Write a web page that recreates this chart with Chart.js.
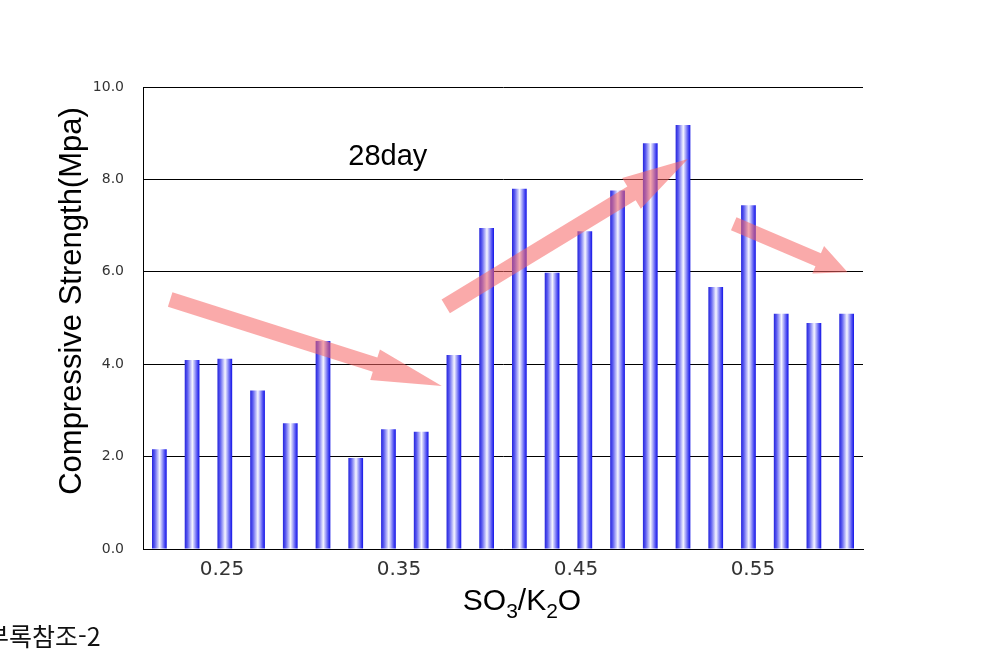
<!DOCTYPE html>
<html lang="ko">
<head>
    <meta charset="UTF-8">
    <title>28day compressive strength</title>
    <style>
        body { margin: 0; background: #fff; }
        .wrap { position: relative; width: 996px; height: 654px; overflow: hidden; }
        #chart { position: absolute; left: 0; top: 0; }
        .note {
            position: absolute;
            left: -14px;
            top: 620px;
            font-family: "Noto Sans CJK KR", sans-serif;
            font-size: 25px;
            line-height: 30px;
            color: #111;
            white-space: nowrap;
        }
    </style>
</head>
<body>
    <div class="wrap">
        <canvas id="chart" width="996" height="654"></canvas>
        <div class="note">부록참조-2</div>
    </div>

    <script src="https://cdn.jsdelivr.net/npm/chart.js@4/dist/chart.umd.min.js"></script>
    <script>
        // 22 specimens, left to right
        const sampleNo = ['1','2','3','4','5','6','7','8','9','10','11','12','13','14','15','16','17','18','19','20','21','22'];
        const strength = [2.16, 4.09, 4.12, 3.43, 2.72, 4.50, 1.97, 2.59, 2.54, 4.20, 6.95, 7.80,
                          5.98, 6.88, 7.76, 8.78, 9.18, 5.67, 7.44, 5.09, 4.89, 5.09];
        // SO3/K2O labels under the axis
        const ratioTicks = [0.25, 0.35, 0.45, 0.55];
        const ratioMin = 0.2054;
        const ratioMax = 0.6122;
        const yTicks = [0, 2, 4, 6, 8, 10];

        // trend arrows, in (bar index, MPa)
        const arrowFrom = [[0.33, 5.40], [8.75, 5.25], [17.55, 7.04]];
        const arrowTo   = [[8.63, 3.53], [16.15, 8.44], [21.03, 5.99]];
        const arrowShaft = [15, 16, 14];
        const arrowHead  = [[70, 32], [66, 36], [32, 30]];   // length, width

        const noteText = '28day';
        const noteAt = [6.98, 8.31];
        const yTitle = 'Compressive Strength(Mpa)';

        function barFill(context) {
            const chart = context.chart;
            const xs = chart.scales.x;
            if (!xs || !chart.chartArea) return '#3333ee';
            const cx = xs.getPixelForValue(context.dataIndex);
            const half = xs.width / sampleNo.length * 0.45 / 2;
            const g = chart.ctx.createLinearGradient(cx - half, 0, cx + half, 0);
            g.addColorStop(0, '#2424dc');
            g.addColorStop(0.18, '#5a5af0');
            g.addColorStop(0.52, '#f6f6ff');
            g.addColorStop(0.85, '#5050f2');
            g.addColorStop(1, '#1212e6');
            return g;
        }

        const overlay = {
            id: 'overlay',
            afterDatasetsDraw(chart) {
                const ctx = chart.ctx;
                const xs = chart.scales.x;
                const ys = chart.scales.y;
                const area = chart.chartArea;
                ctx.save();

                // arrows
                ctx.fillStyle = 'rgba(245, 100, 100, 0.55)';
                arrowFrom.forEach((f, i) => {
                    const x0 = xs.getPixelForValue(f[0]), y0 = ys.getPixelForValue(f[1]);
                    const x1 = xs.getPixelForValue(arrowTo[i][0]), y1 = ys.getPixelForValue(arrowTo[i][1]);
                    const len = Math.hypot(x1 - x0, y1 - y0);
                    const ux = (x1 - x0) / len, uy = (y1 - y0) / len;
                    const nx = -uy, ny = ux;
                    const w = arrowShaft[i] / 2;
                    const hl = arrowHead[i][0], hw = arrowHead[i][1] / 2;
                    const bx = x1 - ux * hl, by = y1 - uy * hl;
                    ctx.beginPath();
                    ctx.moveTo(x0 + nx * w, y0 + ny * w);
                    ctx.lineTo(bx + nx * w, by + ny * w);
                    ctx.lineTo(bx + nx * hw, by + ny * hw);
                    ctx.lineTo(x1, y1);
                    ctx.lineTo(bx - nx * hw, by - ny * hw);
                    ctx.lineTo(bx - nx * w, by - ny * w);
                    ctx.lineTo(x0 - nx * w, y0 - ny * w);
                    ctx.closePath();
                    ctx.fill();
                });

                // 28day note
                ctx.fillStyle = '#000';
                ctx.font = '29px "Liberation Sans", Arial, sans-serif';
                ctx.textAlign = 'center';
                ctx.textBaseline = 'alphabetic';
                ctx.fillText(noteText, xs.getPixelForValue(noteAt[0]), ys.getPixelForValue(noteAt[1]));

                // y axis title
                ctx.save();
                ctx.translate(area.left - 71, (area.top + area.bottom) / 2 - 17);
                ctx.rotate(-Math.PI / 2);
                ctx.font = '31px "Liberation Sans", Arial, sans-serif';
                ctx.textBaseline = 'middle';
                ctx.fillText(yTitle, 0, 0);
                ctx.restore();

                // x axis title with subscripts
                const parts = [['SO', false], ['3', true], ['/K', false], ['2', true], ['O', false]];
                const big = '30px "Liberation Sans", Arial, sans-serif';
                const small = '21px "Liberation Sans", Arial, sans-serif';
                let total = 0;
                parts.forEach(p => { ctx.font = p[1] ? small : big; total += ctx.measureText(p[0]).width; });
                let px = (area.left + area.right) / 2 + 19 - total / 2;
                const base = area.bottom + 61;
                ctx.textAlign = 'left';
                parts.forEach(p => {
                    ctx.font = p[1] ? small : big;
                    ctx.fillText(p[0], px, p[1] ? base + 8 : base);
                    px += ctx.measureText(p[0]).width;
                });
                ctx.restore();
            }
        };

        new Chart(document.getElementById('chart'), {
            type: 'bar',
            data: {
                labels: sampleNo,
                datasets: [{
                    data: strength,
                    backgroundColor: barFill,
                    borderWidth: 0,
                    barPercentage: 0.45,
                    categoryPercentage: 1.0,
                    xAxisID: 'x',
                    yAxisID: 'y'
                }]
            },
            options: {
                responsive: false,
                animation: false,
                layout: { padding: { left: 0, top: 87, right: 133, bottom: 0 } },
                plugins: {
                    legend: { display: false },
                    tooltip: { enabled: false }
                },
                scales: {
                    x: {
                        type: 'category',
                        display: false,
                        offset: true
                    },
                    xl: {
                        type: 'linear',
                        position: 'bottom',
                        offset: false,
                        min: ratioMin,
                        max: ratioMax,
                        afterBuildTicks: scale => { scale.ticks = ratioTicks.map(v => ({ value: v })); },
                        afterFit: scale => { scale.height = 105; },
                        grid: { display: false, drawTicks: false, offset: false },
                        border: { display: true, color: '#000', width: 1 },
                        ticks: {
                            padding: 9,
                            color: '#333',
                            font: { family: 'DejaVu Sans', size: 20 },
                            maxRotation: 0,
                            callback: v => v.toFixed(2)
                        }
                    },
                    y: {
                        min: 0,
                        max: 10,
                        afterBuildTicks: scale => { scale.ticks = yTicks.map(v => ({ value: v })); },
                        afterFit: scale => { scale.width = 143; },
                        grid: { color: '#000', lineWidth: 1, drawTicks: false },
                        border: { display: true, color: '#000', width: 1 },
                        ticks: {
                            padding: 19,
                            color: '#333',
                            font: { family: 'DejaVu Sans', size: 14 },
                            callback: v => v.toFixed(1)
                        }
                    }
                }
            },
            plugins: [overlay]
        });
    </script>
</body>
</html>
